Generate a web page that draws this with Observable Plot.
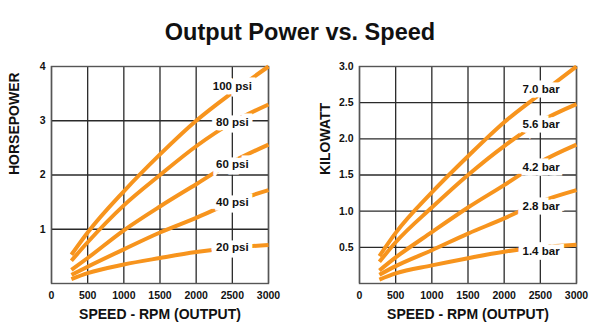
<!DOCTYPE html>
<html>
<head>
<meta charset="utf-8">
<script src="https://cdn.jsdelivr.net/npm/d3@7"></script>
<script src="https://cdn.jsdelivr.net/npm/@observablehq/plot@0.6"></script>
<style>
  html, body { margin: 0; padding: 0; background: #fff; }
  #wrap { position: relative; width: 600px; height: 333px; overflow: hidden; font-family: "Liberation Sans", Arial, sans-serif; }
  #title { position: absolute; left: 0; top: 0; width: 600px; height: 50px; text-align: center; font-weight: bold; font-size: 23.5px; line-height: 23.5px; padding-top: 21px; box-sizing: border-box; color: #111; }
  #row { position: absolute; left: 0; top: 50px; display: flex; }
  svg { display: block; }
</style>
</head>
<body>
<div id="wrap">
  <div id="title">Output Power vs. Speed</div>
  <div id="row"><div id="left"></div><div id="right"></div></div>
</div>
<script>
// ---- data ----
const rpm = [275, 500, 1000, 1500, 2000, 2500, 3000];

const hpSeries = ["100 psi", "80 psi", "60 psi", "40 psi", "20 psi"];
const hp100 = [0.53, 0.94, 1.70, 2.38, 3.00, 3.52, 4.00];
const hp80  = [0.42, 0.76, 1.44, 2.00, 2.53, 2.97, 3.30];
const hp60  = [0.25, 0.47, 0.98, 1.42, 1.83, 2.24, 2.56];
const hp40  = [0.16, 0.31, 0.63, 0.94, 1.21, 1.50, 1.72];
const hp20  = [0.08, 0.19, 0.35, 0.47, 0.58, 0.66, 0.71];
const hpLabelX = [2500, 2500, 2500, 2500, 2500];
const hpLabelY = [3.63, 2.98, 2.20, 1.49, 0.67];
const hpTicks = [1, 2, 3, 4];

const kwSeries = ["7.0 bar", "5.6 bar", "4.2 bar", "2.8 bar", "1.4 bar"];
const kw70 = [0.38, 0.70, 1.26, 1.76, 2.23, 2.62, 3.00];
const kw56 = [0.30, 0.57, 1.05, 1.50, 1.90, 2.24, 2.48];
const kw42 = [0.18, 0.36, 0.71, 1.05, 1.36, 1.68, 1.92];
const kw28 = [0.12, 0.24, 0.46, 0.69, 0.90, 1.13, 1.29];
const kw14 = [0.055, 0.14, 0.25, 0.35, 0.44, 0.50, 0.535];
const kwLabelX = [2510, 2510, 2510, 2510, 2510];
const kwLabelY = [2.69, 2.20, 1.60, 1.07, 0.45];
const kwTicks = [0.5, 1.0, 1.5, 2.0, 2.5, 3.0];

const xTicks = [0, 500, 1000, 1500, 2000, 2500, 3000];

// ---- build ----
const ORANGE = "#f7941d";
function rows(names, arrays) {
  const out = [];
  names.forEach((n, i) => arrays[i].forEach((v, j) => out.push({series: n, x: rpm[j], y: v})));
  return out;
}
function labels(names, xs, ys) {
  return names.map((n, i) => ({series: n, x: xs[i], y: ys[i]}));
}

function chart({data, lab, yDomain, yTicks, yGrid, yFormat, yLabel, marginLeft, marginRight, yLabelDx}) {
  return Plot.plot({
    width: 300,
    height: 283,
    marginTop: 16,
    marginBottom: 50,
    marginLeft,
    marginRight,
    style: {fontFamily: "'Liberation Sans', Arial, sans-serif", color: "#111", background: "#fff"},
    x: {domain: [0, 3000]},
    y: {domain: yDomain},
    marks: [
      Plot.gridX(xTicks, {stroke: "#2a2a2a", strokeOpacity: 1, strokeWidth: 1.3}),
      Plot.gridY(yGrid, {stroke: "#2a2a2a", strokeOpacity: 1, strokeWidth: 1.3}),
      Plot.frame({stroke: "#555", strokeWidth: 1.4}),
      Plot.line(data, {x: "x", y: "y", z: "series", stroke: ORANGE, strokeWidth: 4, curve: "monotone-x", strokeLinecap: "butt"}),
      Plot.text(lab, {x: "x", y: "y", text: "series", fontSize: 11.5, fontWeight: "bold", fill: "#111", stroke: "white", strokeWidth: 9, strokeLinejoin: "miter"}),
      Plot.axisX(xTicks, {tickSize: 0, tickPadding: 8, fontSize: 10.5, fontWeight: "bold", label: null, tickFormat: d => String(d)}),
      Plot.axisY(yTicks, {tickSize: 0, tickPadding: 6, fontSize: 10.5, fontWeight: "bold", label: null, tickFormat: yFormat}),
      Plot.text(["SPEED - RPM (OUTPUT)"], {frameAnchor: "bottom", dy: 35, fontSize: 14, fontWeight: "bold", fill: "#111"}),
      Plot.text([yLabel], {frameAnchor: "left", rotate: -90, dx: yLabelDx, fontSize: 14, fontWeight: "bold", fill: "#111"})
    ]
  });
}

document.getElementById("left").appendChild(chart({
  data: rows(hpSeries, [hp100, hp80, hp60, hp40, hp20]),
  lab: labels(hpSeries, hpLabelX, hpLabelY),
  yDomain: [0, 4],
  yTicks: hpTicks,
  yGrid: [1, 2, 3],
  yFormat: d => String(d),
  yLabel: "HORSEPOWER",
  marginLeft: 51,
  marginRight: 32,
  yLabelDx: -37
}));

document.getElementById("right").appendChild(chart({
  data: rows(kwSeries, [kw70, kw56, kw42, kw28, kw14]),
  lab: labels(kwSeries, kwLabelX, kwLabelY),
  yDomain: [0, 3],
  yTicks: kwTicks,
  yGrid: [0.5, 1.0, 1.5, 2.0, 2.5],
  yFormat: d3.format(".1f"),
  yLabel: "KILOWATT",
  marginLeft: 59,
  marginRight: 24,
  yLabelDx: -34
}));
</script>
</body>
</html>
